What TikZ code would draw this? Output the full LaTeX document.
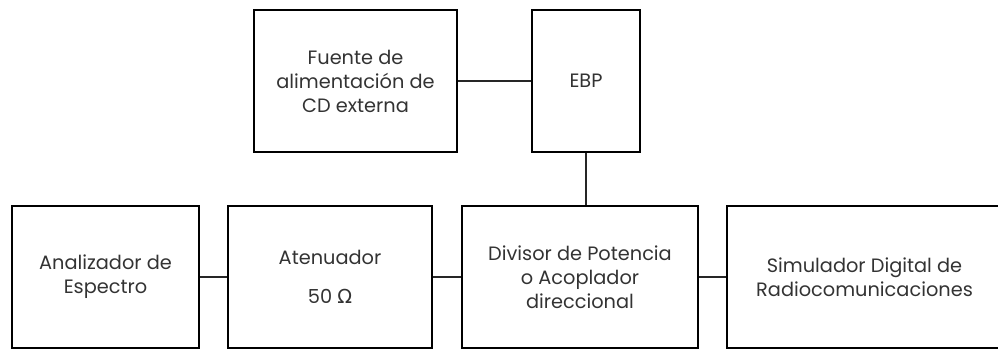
\documentclass[tikz,border=0pt]{standalone}
\usepackage{fontspec}
\setmainfont{Poppins}
\newfontfamily\symfont{DejaVu Sans}

\begin{document}
\begin{tikzpicture}[x=0.75pt, y=-0.75pt,
    box/.style={draw, line width=2.2pt, minimum height=106.5pt, align=center, inner sep=0pt,
                font=\fontsize{14.5}{18}\selectfont, text=black!80},
    link/.style={line width=1pt, black!85}]
    \useasboundingbox (0,0) rectangle (998,350);

    % Top row: supply and EBP
    \node[box, minimum width=152.25pt] (fuente) at (355.5,81) {Fuente de\\alimentación de\\CD externa};
    \node[box, minimum width=81pt] (ebp) at (586,81) {EBP};

    % Bottom row: measurement chain
    \node[box, minimum width=140.25pt] (analizador) at (105.5,277) {Analizador de\\Espectro};
    \node[box, minimum width=153pt] (atenuador) at (330,277) {Atenuador\\[11pt]50 {\symfont Ω}};
    \node[box, minimum width=177pt] (divisor) at (580,277) {Divisor de Potencia\\o Acoplador\\direccional};
    \node[box, minimum width=206.25pt] (simulador) at (864.5,277) {Simulador Digital de\\Radiocomunicaciones};

    % Connections
    \draw[link] (fuente) -- (ebp);
    \draw[link] (ebp.south) -- (ebp.south |- divisor.north);
    \draw[link] (analizador) -- (atenuador);
    \draw[link] (atenuador) -- (divisor);
    \draw[link] (divisor) -- (simulador);
\end{tikzpicture}
\end{document}
